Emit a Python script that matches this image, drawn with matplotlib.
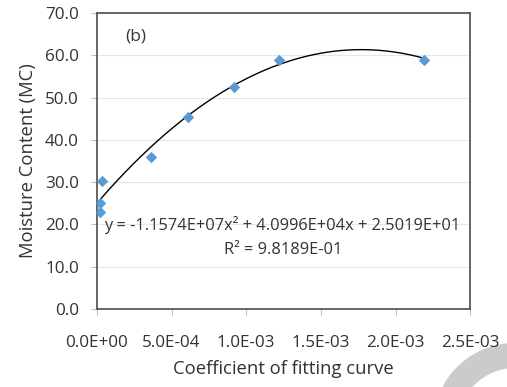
import matplotlib.pyplot as plt
import numpy as np
from matplotlib.patches import Wedge

plt.rcParams["font.family"] = ["Open Sans", "DejaVu Sans"]

# measured points
coef = [2.0e-5, 2.0e-5, 3.6e-5, 3.62e-4, 6.08e-4, 9.18e-4, 1.222e-3, 2.194e-3]
moisture = [22.9, 25.0, 30.2, 36.0, 45.3, 52.6, 58.8, 58.9]

# trendline coefficients (as printed on the chart)
fit = [-1.1574e07, 4.0996e04, 2.5019e01]
eq_text = "y = -1.1574E+07x² + 4.0996E+04x + 2.5019E+01"
r2_text = "R² = 9.8189E-01"

x_ticks = [0.0, 5.0e-4, 1.0e-3, 1.5e-3, 2.0e-3, 2.5e-3]
x_labels = ["0.0E+00", "5.0E-04", "1.0E-03", "1.5E-03", "2.0E-03", "2.5E-03"]
y_ticks = [0, 10, 20, 30, 40, 50, 60, 70]

W, H = 507, 387
fig = plt.figure(figsize=(W / 100, H / 100), dpi=100, facecolor="white")
ax = fig.add_axes([0.1913, 0.2016, 0.736, 0.765])

# faint watermark in the bottom-right corner (inches, from bottom-left)
ring = Wedge((5.15, -0.38), 0.82, 0, 360, width=0.25,
             transform=fig.dpi_scale_trans, facecolor="#cbcbcb", edgecolor="none", zorder=-5)
fig.patches.append(ring)

xs = np.linspace(min(coef), max(coef), 200)
ax.plot(xs, np.polyval(fit, xs), color="black", lw=1.0, zorder=2)
ax.scatter(coef, moisture, marker="D", s=34, color="#5B9BD5", zorder=3, linewidths=0)

ax.set_xlim(0, 2.5e-3)
ax.set_ylim(0, 70)
ax.set_xticks(x_ticks)
ax.set_xticklabels(x_labels, fontsize=12.3, color="#333333")
ax.set_yticks(y_ticks)
ax.set_yticklabels([f"{v:.1f}" for v in y_ticks], fontsize=12.3, color="#333333")
ax.tick_params(axis="x", direction="out", length=4, pad=15, color="#bfbfbf")
ax.tick_params(axis="y", direction="out", length=4, pad=9, color="#bfbfbf")
ax.grid(axis="y", color="#e6e6e6", lw=0.8)
ax.set_axisbelow(True)
for s in ax.spines.values():
    s.set_color("#595959")
    s.set_linewidth(1.3)

ax.set_xlabel("Coefficient of fitting curve", fontsize=13.3, color="#333333", labelpad=6)
ax.set_ylabel("Moisture Content (MC)", fontsize=13.3, color="#333333", labelpad=6)

ax.text(0.075, 0.92, "(b)", transform=ax.transAxes, fontsize=12.5, color="#333333", va="center")
ax.text(0.02, 0.284, eq_text, transform=ax.transAxes, fontsize=11.8, color="#333333", ha="left", va="center")
ax.text(0.5, 0.2, r2_text, transform=ax.transAxes, fontsize=11.8, color="#333333", ha="center", va="center")

fig.savefig("out.png", dpi=100)
